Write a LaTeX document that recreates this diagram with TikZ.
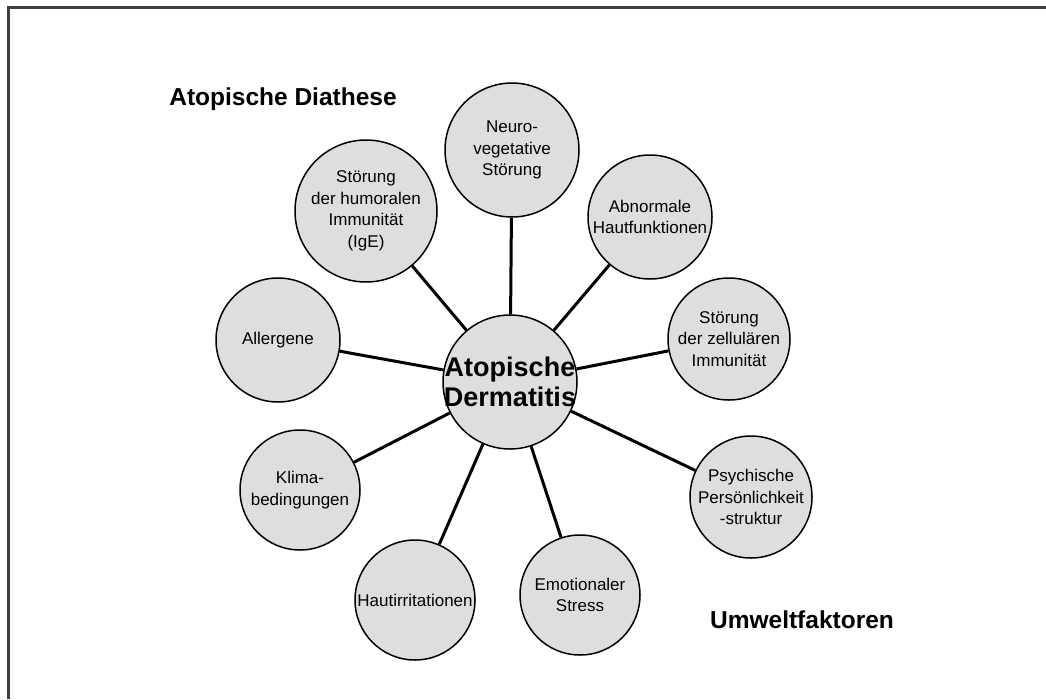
\documentclass[tikz,border=0pt]{standalone}
\usepackage{fontspec}
\setmainfont{Liberation Sans}
\usetikzlibrary{positioning}
\tikzset{
  factor/.style={circle,draw,line width=1.5pt,fill=black!13,inner sep=0pt,align=center,
    font=\fontsize{17}{21.5}\selectfont},
  heading/.style={font=\bfseries\fontsize{24.5}{28}\selectfont},
}
\begin{document}
\begin{tikzpicture}[x=1pt,y=-1pt]
\useasboundingbox (0,0) rectangle (1046,699);
\draw[line width=3pt,black!75] (8,699) -- (8,7) -- (1046,7);
\node[heading] (T1) at (283,99) {Atopische Diathese};
\node[heading] (T2) at (802,620) {Umweltfaktoren};
\node[factor,minimum size=134pt,label={[align=center,font=\bfseries\fontsize{27}{30}\selectfont]center:Atopische\\Dermatitis}] (AD) at (510,382) {};
\node[factor,minimum size=134pt] (N) at (512,150) {Neuro-\\vegetative\\Störung};
\node[factor,minimum size=124pt] (H) at (650,217) {Abnormale\\Hautfunktionen};
\node[factor,minimum size=122pt] (Z) at (729,339) {Störung\\der zellulären\\Immunität};
\node[factor,minimum size=122pt] (P) at (751,497) {Psychische\\Persönlichkeit\\-struktur};
\node[factor,minimum size=120pt] (E) at (580,595) {Emotionaler\\Stress};
\node[factor,minimum size=120pt] (I) at (415,600) {Hautirritationen};
\node[factor,minimum size=120pt] (K) at (300,490) {Klima-\\bedingungen};
\node[factor,minimum size=124pt] (A) at (278,340) {Allergene};
\node[factor,minimum size=142pt] (G) at (366,211) {Störung\\der humoralen\\Immunität\\(IgE)};
\path[line width=3pt]
(AD) edge (N)
(AD) edge (H)
(AD) edge (Z)
(AD) edge (P)
(AD) edge (E)
(AD) edge (I)
(AD) edge (K)
(AD) edge (A)
(AD) edge (G);
\end{tikzpicture}
\end{document}
